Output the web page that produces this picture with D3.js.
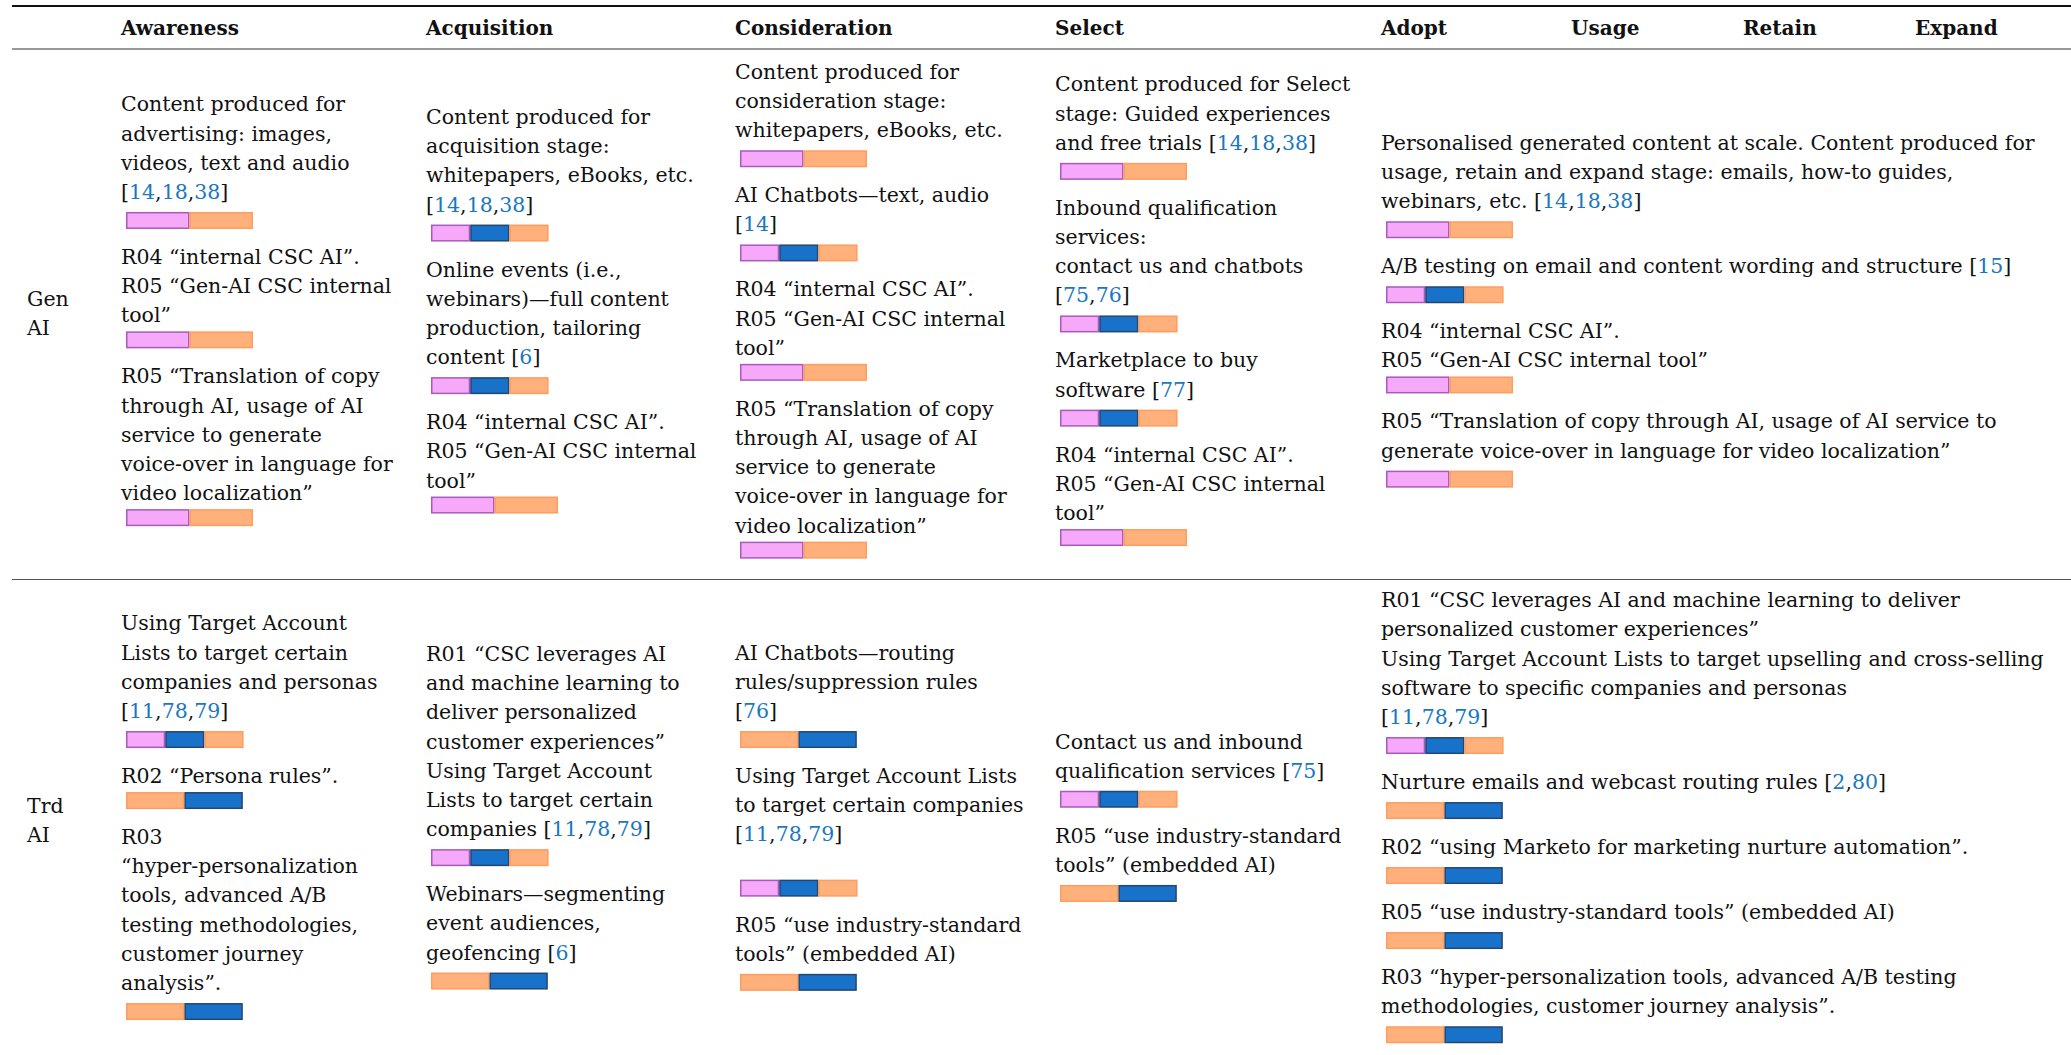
<!DOCTYPE html>
<html>
<head>
<meta charset="utf-8">
<script src="https://cdn.jsdelivr.net/npm/d3@7/dist/d3.min.js"></script>
<style>
  body { margin: 0; background: #fff; }
  svg { display: block; }
  text { font-family: "DejaVu Serif", "Liberation Serif", serif; font-size: 20.5px; fill: #111; }
  .head { font-weight: bold; font-size: 20px; }
  .cite { fill: #1a78bf; }
</style>
</head>
<body>
<div id="chart"></div>
<script>
// header labels
const stages = ["Awareness", "Acquisition", "Consideration", "Select", "Adopt", "Usage", "Retain", "Expand"];
const rowLabels = [["Gen", "AI"], ["Trd", "AI"]];

// bar kinds: P = pink, B = blue, O = orange
const barSegments = {
  PO: [["P", 1.62], ["O", 1.62]],
  PBO: [["P", 1], ["B", 1], ["O", 1]],
  OB: [["O", 1.49], ["B", 1.49]]
};

// Gen AI row
const genAwareness = [
  { text: ["Content produced for", "advertising: images,", "videos, text and audio", "[14,18,38]"], bar: "PO" },
  { text: ["R04 “internal CSC AI”.", "R05 “Gen-AI CSC internal", "tool”"], bar: "PO" },
  { text: ["R05 “Translation of copy", "through AI, usage of AI", "service to generate", "voice-over in language for", "video localization”"], bar: "PO" }
];
const genAcquisition = [
  { text: ["Content produced for", "acquisition stage:", "whitepapers, eBooks, etc.", "[14,18,38]"], bar: "PBO" },
  { text: ["Online events (i.e.,", "webinars)—full content", "production, tailoring", "content [6]"], bar: "PBO" },
  { text: ["R04 “internal CSC AI”.", "R05 “Gen-AI CSC internal", "tool”"], bar: "PO" }
];
const genConsideration = [
  { text: ["Content produced for", "consideration stage:", "whitepapers, eBooks, etc."], bar: "PO" },
  { text: ["AI Chatbots—text, audio", "[14]"], bar: "PBO" },
  { text: ["R04 “internal CSC AI”.", "R05 “Gen-AI CSC internal", "tool”"], bar: "PO" },
  { text: ["R05 “Translation of copy", "through AI, usage of AI", "service to generate", "voice-over in language for", "video localization”"], bar: "PO" }
];
const genSelect = [
  { text: ["Content produced for Select", "stage: Guided experiences", "and free trials [14,18,38]"], bar: "PO" },
  { text: ["Inbound qualification", "services:", "contact us and chatbots", "[75,76]"], bar: "PBO" },
  { text: ["Marketplace to buy", "software [77]"], bar: "PBO" },
  { text: ["R04 “internal CSC AI”.", "R05 “Gen-AI CSC internal", "tool”"], bar: "PO" }
];
const genAdopt = [
  { text: ["Personalised generated content at scale. Content produced for", "usage, retain and expand stage: emails, how-to guides,", "webinars, etc. [14,18,38]"], bar: "PO" },
  { text: ["A/B testing on email and content wording and structure [15]"], bar: "PBO" },
  { text: ["R04 “internal CSC AI”.", "R05 “Gen-AI CSC internal tool”"], bar: "PO" },
  { text: ["R05 “Translation of copy through AI, usage of AI service to", "generate voice-over in language for video localization”"], bar: "PO" }
];

// Trd AI row
const trdAwareness = [
  { text: ["Using Target Account", "Lists to target certain", "companies and personas", "[11,78,79]"], bar: "PBO" },
  { text: ["R02 “Persona rules”."], bar: "OB" },
  { text: ["R03", "“hyper-personalization", "tools, advanced A/B", "testing methodologies,", "customer journey", "analysis”."], bar: "OB" }
];
const trdAcquisition = [
  { text: ["R01 “CSC leverages AI", "and machine learning to", "deliver personalized", "customer experiences”", "Using Target Account", "Lists to target certain", "companies [11,78,79]"], bar: "PBO" },
  { text: ["Webinars—segmenting", "event audiences,", "geofencing [6]"], bar: "OB" }
];
const trdConsideration = [
  { text: ["AI Chatbots—routing", "rules/suppression rules", "[76]"], bar: "OB" },
  { text: ["Using Target Account Lists", "to target certain companies", "[11,78,79]", ""], bar: "PBO" },
  { text: ["R05 “use industry-standard", "tools” (embedded AI)"], bar: "OB" }
];
const trdSelect = [
  { text: ["Contact us and inbound", "qualification services [75]"], bar: "PBO" },
  { text: ["R05 “use industry-standard", "tools” (embedded AI)"], bar: "OB" }
];
const trdAdopt = [
  { text: ["R01 “CSC leverages AI and machine learning to deliver", "personalized customer experiences”", "Using Target Account Lists to target upselling and cross-selling", "software to specific companies and personas", "[11,78,79]"], bar: "PBO" },
  { text: ["Nurture emails and webcast routing rules [2,80]"], bar: "OB" },
  { text: ["R02 “using Marketo for marketing nurture automation”."], bar: "OB" },
  { text: ["R05 “use industry-standard tools” (embedded AI)"], bar: "OB" },
  { text: ["R03 “hyper-personalization tools, advanced A/B testing", "methodologies, customer journey analysis”."], bar: "OB" }
];

const rows = [
  [genAwareness, genAcquisition, genConsideration, genSelect, genAdopt],
  [trdAwareness, trdAcquisition, trdConsideration, trdSelect, trdAdopt]
];

// layout
const width = 2071, height = 1055;
const headX = [121, 426, 735, 1055, 1381, 1571, 1743, 1915];
const cellX = headX.slice(0, 5);
const rowCenter = [311, 817.5];
const lineH = 29.2, capH = 15.5, barH = 17, itemGap = 35;

const x = d3.scaleLinear().domain([0, 3]).range([0, 117.6]);
const fillColor = d3.scaleOrdinal().domain(["P", "B", "O"]).range(["#f6a9f9", "#1872c9", "#ffb07b"]);
const strokeColor = d3.scaleOrdinal().domain(["P", "B", "O"]).range(["#a85abd", "#24466f", "#ff9d5e"]);

const svg = d3.select("#chart").append("svg").attr("width", width).attr("height", height);

// rules
svg.append("line").attr("x1", 12).attr("x2", width).attr("y1", 6).attr("y2", 6).attr("stroke", "#111").attr("stroke-width", 2);
svg.append("line").attr("x1", 12).attr("x2", width).attr("y1", 49).attr("y2", 49).attr("stroke", "#333").attr("stroke-width", 1.2);
svg.append("line").attr("x1", 12).attr("x2", width).attr("y1", 579.5).attr("y2", 579.5).attr("stroke", "#555").attr("stroke-width", 1);

svg.selectAll(".head").data(stages).enter().append("text")
  .attr("class", "head")
  .attr("x", (d, i) => headX[i]).attr("y", 35)
  .text(d => d);

// row labels
rowLabels.forEach((lab, r) => {
  svg.append("g").selectAll("text").data(lab).enter().append("text")
    .attr("x", 27).attr("y", (d, i) => rowCenter[r] - 5 + i * lineH)
    .text(d => d);
});

function hasDescender(s) { return /[gjpqy\[\]\(\),;]/.test(s); }

// write a line, colouring citation numbers
function writeLine(g, s, tx, ty) {
  const t = g.append("text").attr("x", tx).attr("y", ty);
  s.split(/(\[[\d,]+\])/).forEach(part => {
    if (/^\[[\d,]+\]$/.test(part)) {
      t.append("tspan").text("[");
      part.slice(1, -1).split(",").forEach((n, k) => {
        if (k > 0) t.append("tspan").text(",");
        t.append("tspan").attr("class", "cite").text(n);
      });
      t.append("tspan").text("]");
    } else if (part.length) {
      t.append("tspan").text(part);
    }
  });
}

rows.forEach((cells, r) => {
  cells.forEach((items, c) => {
    // relative layout, first baseline at 0
    let y = 0, prevBottom = null;
    const laid = items.map(it => {
      if (prevBottom !== null) y = prevBottom + itemGap;
      const base = it.text.map((s, j) => y + j * lineH);
      const last = it.text[it.text.length - 1];
      const barTop = base[base.length - 1] + (hasDescender(last) ? 13 : 9);
      prevBottom = barTop + barH;
      return { it, base, barTop };
    });
    const top = -capH, bottom = prevBottom;
    const shift = rowCenter[r] - (top + bottom) / 2;
    const g = svg.append("g").attr("transform", `translate(0,${shift})`);
    laid.forEach(d => {
      d.it.text.forEach((s, j) => writeLine(g, s, cellX[c], d.base[j]));
      const segs = barSegments[d.it.bar];
      const ends = d3.cumsum(segs, s => s[1]);
      g.append("g").selectAll("rect").data(segs).enter().append("rect")
        .attr("x", (s, k) => cellX[c] + 5 + x(ends[k] - s[1]) + 0.75)
        .attr("y", d.barTop + 0.75)
        .attr("width", s => x(s[1]) - 1.5)
        .attr("height", barH - 1.5)
        .attr("fill", s => fillColor(s[0]))
        .attr("stroke", s => strokeColor(s[0]))
        .attr("stroke-width", 1.5);
    });
  });
});
</script>
</body>
</html>
